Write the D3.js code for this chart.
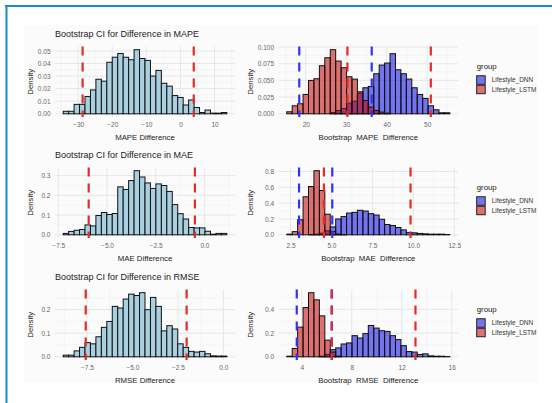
<!DOCTYPE html>
<html>
<head>
<meta charset="utf-8">
<script src="https://cdn.jsdelivr.net/npm/d3@7"></script>
<style>
  body { margin: 0; background: #fff; }
  svg text { font-family: 'Liberation Sans', Arial, sans-serif; }
</style>
</head>
<body>
<svg id="chart" width="552" height="403"></svg>
<script>
(function() {

  'use strict';

  // ---- data (densities per bin, 30 bins each) ----
  var mapeStart = -34.4, mapeWidth = 1.6;
  var mapeDiff = [0.002, 0.002, 0.0075, 0.0075, 0.0137, 0.019, 0.0275, 0.026, 0.041, 0.045,
    0.048, 0.045, 0.043, 0.051, 0.044, 0.0425, 0.030, 0.0345, 0.0243, 0.022,
    0.0145, 0.013, 0.007, 0.011, 0.005, 0.001, 0.003, 0.0005, 0.0005, 0.001];
  var mapeCI = [-28.7, 3.9];

  var maeStart = -7.25, maeWidth = 0.28;
  var maeDiff = [0.007, 0.017, 0.023, 0.027, 0.05, 0.045, 0.098, 0.113, 0.103, 0.108,
    0.243, 0.23, 0.275, 0.325, 0.293, 0.263, 0.235, 0.258, 0.25, 0.22,
    0.153, 0.107, 0.08, 0.037, 0.035, 0.035, 0.018, 0.003, 0.007, 0.007];
  var maeCI = [-5.94, -0.49];

  var rmseStart = -8.81, rmseWidth = 0.3;
  var rmseDiff = [0.007, 0.007, 0.025, 0.04, 0.06, 0.055, 0.085, 0.125, 0.15, 0.214,
    0.207, 0.245, 0.266, 0.26, 0.272, 0.2, 0.252, 0.214, 0.11, 0.132,
    0.118, 0.055, 0.04, 0.023, 0.02, 0.023, 0.013, 0.004, 0.003, 0.003];
  var rmseCI = [-7.57, -2.02];

  var bMapeStart = 15.31, bMapeWidth = 1.343;
  var bMapeDnn = [0, 0, 0, 0, 0, 0, 0, 0, 0.002, 0.005,
    0.008, 0.016, 0.019, 0.031, 0.039, 0.041, 0.060, 0.073, 0.076, 0.090,
    0.066, 0.060, 0.052, 0.039, 0.029, 0.023, 0.012, 0.006, 0.0015, 0.0015];
  var bMapeLstm = [0.003, 0.012, 0.015, 0.029, 0.050, 0.0525, 0.072, 0.084, 0.096, 0.079,
    0.069, 0.0555, 0.052, 0.033, 0.020, 0.010, 0.005, 0.0025, 0.001, 0,
    0, 0, 0, 0, 0, 0, 0, 0, 0, 0];
  var bMapeBlueCI = [18.4, 36.3];
  var bMapeRedCI = [30.3, 50.9];

  var bMaeStart = 2.27, bMaeWidth = 0.332;
  var bMaeDnn = [0, 0, 0, 0, 0.004, 0.008, 0.02, 0.05, 0.10, 0.20,
    0.23, 0.275, 0.283, 0.31, 0.30, 0.267, 0.25, 0.196, 0.13, 0.117,
    0.092, 0.062, 0.03, 0.025, 0.017, 0.012, 0.008, 0.008, 0.008, 0.004];
  var bMaeLstm = [0.008, 0.04, 0.19, 0.48, 0.61, 0.81, 0.56, 0.26, 0.04, 0.01,
    0.003, 0, 0, 0, 0, 0, 0, 0, 0, 0,
    0, 0, 0, 0, 0, 0, 0, 0, 0, 0];
  var bMaeBlueCI = [3.02, 5.05];
  var bMaeRedCI = [4.54, 9.83];

  var bRmseStart = 2.8, bRmseWidth = 0.435;
  var bRmseDnn = [0, 0, 0, 0, 0, 0, 0.005, 0.02, 0.06, 0.075,
    0.108, 0.117, 0.178, 0.158, 0.195, 0.264, 0.242, 0.22, 0.214, 0.178,
    0.145, 0.094, 0.044, 0.04, 0.02, 0.025, 0.008, 0.005, 0.005, 0.002];
  var bRmseLstm = [0.005, 0.07, 0.25, 0.415, 0.54, 0.48, 0.345, 0.14, 0.04, 0.005,
    0, 0, 0, 0, 0, 0, 0, 0, 0, 0,
    0, 0, 0, 0, 0, 0, 0, 0, 0, 0];
  var bRmseBlueCI = [3.6, 6.4];
  var bRmseRedCI = [6.4, 13.1];

  var groups = ['Lifestyle_DNN', 'Lifestyle_LSTM'];

  var mapeTicksX = [-30, -20, -10, 0, 10], mapeTicksY = [0, 0.01, 0.02, 0.03, 0.04, 0.05];
  var maeTicksX = [-7.5, -5, -2.5, 0], maeTicksY = [0, 0.1, 0.2, 0.3];
  var rmseTicksX = [-7.5, -5, -2.5, 0], rmseTicksY = [0, 0.1, 0.2];
  var bMapeTicksX = [20, 30, 40, 50], bMapeTicksY = [0, 0.025, 0.05, 0.075, 0.1];
  var bMaeTicksX = [2.5, 5, 7.5, 10, 12.5], bMaeTicksY = [0, 0.2, 0.4, 0.6, 0.8];
  var bRmseTicksX = [4, 8, 12, 16], bRmseTicksY = [0, 0.2, 0.4];

  // ---- styles ----
  var lightBlue = '#a9d0e0';
  var dnnFill = '#0505e0', lstmFill = '#c10000', barAlpha = 0.55;
  var ciRed = '#e52a2a', ciBlue = '#3030ff';
  var gridMajor = '#e4e4e4', gridMinor = '#efefef';
  var tickColor = '#666';

  var svg = d3.select('#chart');

  // frame + plot background
  svg.append('rect').attr('x', 24).attr('y', 25).attr('width', 514).attr('height', 358)
    .attr('fill', '#fbfbfb');
  svg.append('line').attr('x1', 5).attr('y1', 6).attr('x2', 552).attr('y2', 6)
    .attr('stroke', '#1b8bc8').attr('stroke-width', 2);
  svg.append('line').attr('x1', 6.5).attr('y1', 5).attr('x2', 6.5).attr('y2', 403)
    .attr('stroke', '#1b8bc8').attr('stroke-width', 2);

  var leftBox = {x: 55, w: 180, yTitle: 30};
  var rightBox = {x: 278.6, w: 179.4, yTitle: 250.5};
  var rowTop = [46.5, 167.5, 289.5];
  var rowH = 70.5;

  var panels = [
    {box: leftBox, row: 0, start: mapeStart, width: mapeWidth,
     series: [{values: mapeDiff, fill: lightBlue, alpha: 1}],
     lines: [{xs: mapeCI, color: ciRed}],
     ticksX: mapeTicksX, ticksY: mapeTicksY, fmtX: d3.format('d'), fmtY: d3.format('.2f'),
     title: 'Bootstrap CI for Difference in MAPE', xlab: 'MAPE Difference'},
    {box: rightBox, row: 0, start: bMapeStart, width: bMapeWidth,
     series: [{values: bMapeDnn, fill: dnnFill, alpha: barAlpha},
              {values: bMapeLstm, fill: lstmFill, alpha: barAlpha}],
     lines: [{xs: bMapeBlueCI, color: ciBlue}, {xs: bMapeRedCI, color: ciRed}],
     ticksX: bMapeTicksX, ticksY: bMapeTicksY, fmtX: d3.format('d'), fmtY: d3.format('.3f'),
     xlab: 'Bootstrap  MAPE  Difference', legend: true},
    {box: leftBox, row: 1, start: maeStart, width: maeWidth,
     series: [{values: maeDiff, fill: lightBlue, alpha: 1}],
     lines: [{xs: maeCI, color: ciRed}],
     ticksX: maeTicksX, ticksY: maeTicksY, fmtX: d3.format('.1f'), fmtY: d3.format('.1f'),
     title: 'Bootstrap CI for Difference in MAE', xlab: 'MAE Difference'},
    {box: rightBox, row: 1, start: bMaeStart, width: bMaeWidth,
     series: [{values: bMaeDnn, fill: dnnFill, alpha: barAlpha},
              {values: bMaeLstm, fill: lstmFill, alpha: barAlpha}],
     lines: [{xs: bMaeBlueCI, color: ciBlue}, {xs: bMaeRedCI, color: ciRed}],
     ticksX: bMaeTicksX, ticksY: bMaeTicksY, fmtX: d3.format('.1f'), fmtY: d3.format('.1f'),
     xlab: 'Bootstrap  MAE  Difference', legend: true},
    {box: leftBox, row: 2, start: rmseStart, width: rmseWidth,
     series: [{values: rmseDiff, fill: lightBlue, alpha: 1}],
     lines: [{xs: rmseCI, color: ciRed}],
     ticksX: rmseTicksX, ticksY: rmseTicksY, fmtX: d3.format('.1f'), fmtY: d3.format('.1f'),
     title: 'Bootstrap CI for Difference in RMSE', xlab: 'RMSE Difference'},
    {box: rightBox, row: 2, start: bRmseStart, width: bRmseWidth,
     series: [{values: bRmseDnn, fill: dnnFill, alpha: barAlpha},
              {values: bRmseLstm, fill: lstmFill, alpha: barAlpha}],
     lines: [{xs: bRmseBlueCI, color: ciBlue}, {xs: bRmseRedCI, color: ciRed}],
     ticksX: bRmseTicksX, ticksY: bRmseTicksY, fmtX: d3.format('d'), fmtY: d3.format('.1f'),
     xlab: 'Bootstrap  RMSE  Difference', legend: true}
  ];

  function minors(ticks, domain) {
    var step = ticks[1] - ticks[0], out = [];
    for (var i = -1; i < ticks.length; i++) {
      var v = (i < 0 ? ticks[0] : ticks[i]) + (i < 0 ? -step / 2 : step / 2);
      if (v >= domain[0] && v <= domain[1]) out.push(v);
    }
    return out;
  }

  function drawPanel(p) {
    var top = rowTop[p.row], bx = p.box;
    var x = d3.scaleLinear()
      .domain([p.start - 1.5 * p.width, p.start + 31.5 * p.width])
      .range([bx.x, bx.x + bx.w]);
    var ymax = d3.max(p.series, function(s) { return d3.max(s.values); });
    var y = d3.scaleLinear().domain([-0.05 * ymax, 1.05 * ymax]).range([top + rowH, top]);
    var g = svg.append('g');

    // grid
    var grid = g.append('g');
    grid.selectAll('.minx').data(minors(p.ticksX, x.domain())).enter().append('line')
      .attr('x1', x).attr('x2', x).attr('y1', top).attr('y2', top + rowH)
      .attr('stroke', gridMinor).attr('stroke-width', 0.5);
    grid.selectAll('.miny').data(minors(p.ticksY, y.domain())).enter().append('line')
      .attr('y1', y).attr('y2', y).attr('x1', bx.x).attr('x2', bx.x + bx.w)
      .attr('stroke', gridMinor).attr('stroke-width', 0.5);
    grid.selectAll('.majx').data(p.ticksX).enter().append('line')
      .attr('x1', x).attr('x2', x).attr('y1', top).attr('y2', top + rowH)
      .attr('stroke', gridMajor).attr('stroke-width', 0.9);
    grid.selectAll('.majy').data(p.ticksY).enter().append('line')
      .attr('y1', y).attr('y2', y).attr('x1', bx.x).attr('x2', bx.x + bx.w)
      .attr('stroke', gridMajor).attr('stroke-width', 0.9);

    // bars
    p.series.forEach(function(s) {
      g.append('g').selectAll('rect').data(s.values).enter().append('rect')
        .attr('x', function(d, i) { return x(p.start + i * p.width); })
        .attr('width', function(d, i) { return x(p.start + (i + 1) * p.width) - x(p.start + i * p.width); })
        .attr('y', function(d) { return y(d); })
        .attr('height', function(d) { return y(0) - y(d); })
        .attr('fill', s.fill).attr('fill-opacity', s.alpha)
        .attr('stroke', '#111').attr('stroke-width', 1);
    });

    // CI lines
    p.lines.forEach(function(l) {
      g.append('g').selectAll('line').data(l.xs).enter().append('line')
        .attr('x1', x).attr('x2', x).attr('y1', top).attr('y2', top + rowH)
        .attr('stroke', l.color).attr('stroke-width', 2.2)
        .attr('stroke-dasharray', '9,7');
    });

    // axes
    var ax = g.append('g').attr('transform', 'translate(0,' + (top + rowH) + ')')
      .call(d3.axisBottom(x).tickValues(p.ticksX).tickSize(0).tickPadding(5).tickFormat(p.fmtX));
    var ay = g.append('g').attr('transform', 'translate(' + bx.x + ',0)')
      .call(d3.axisLeft(y).tickValues(p.ticksY).tickSize(0).tickPadding(4.5).tickFormat(p.fmtY));
    [ax, ay].forEach(function(a) {
      a.select('.domain').remove();
      a.selectAll('text').attr('fill', tickColor).style('font-size', '6.5px')
        .style('font-family', "'Liberation Sans', Arial, sans-serif");
    });

    g.append('text').attr('x', bx.x + bx.w / 2).attr('y', top + rowH + 23)
      .attr('text-anchor', 'middle').style('font-size', '7.8px').style('white-space', 'pre')
      .attr('fill', '#222').text(p.xlab);
    g.append('text')
      .attr('transform', 'translate(' + (bx.yTitle + 2.5) + ',' + (top + rowH / 2) + ') rotate(-90)')
      .attr('text-anchor', 'middle').style('font-size', '7.8px')
      .attr('fill', '#222').text('Density');

    if (p.title) {
      g.append('text').attr('x', bx.x).attr('y', top - 9.5)
        .style('font-size', '9px').attr('fill', '#222').text(p.title);
    }

    if (p.legend) {
      var lg = g.append('g').attr('transform', 'translate(476.7,' + (top + rowH / 2 - 13) + ')');
      lg.append('text').attr('x', 0).attr('y', 0).style('font-size', '7.8px')
        .attr('fill', '#222').text('group');
      var item = lg.selectAll('.item').data(groups).enter().append('g')
        .attr('transform', function(d, i) { return 'translate(0,' + (7 + i * 9.5) + ')'; });
      item.append('rect').attr('width', 8.5).attr('height', 8.5)
        .attr('fill', function(d, i) { return p.series[i].fill; })
        .attr('fill-opacity', barAlpha)
        .attr('stroke', '#111').attr('stroke-width', 0.9);
      item.append('text').attr('x', 15).attr('y', 6.6).style('font-size', '6.5px')
        .attr('fill', '#333').text(function(d) { return d; });
    }
  }

  panels.forEach(drawPanel);

})();
</script>
</body>
</html>
